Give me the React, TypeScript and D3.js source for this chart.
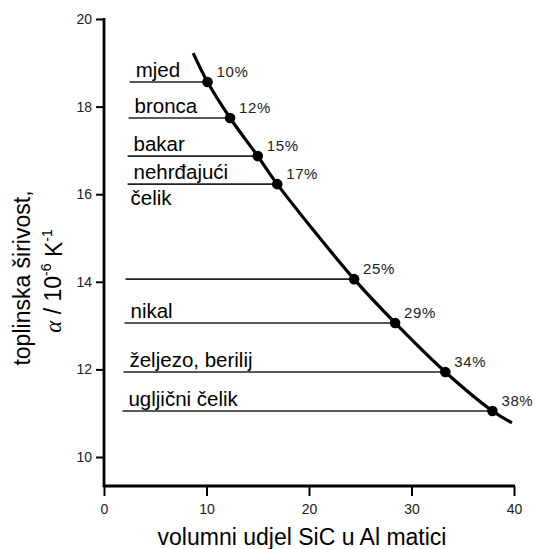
import React, { useRef, useEffect } from "react";
import { select, scaleLinear, line, axisLeft, axisBottom, curveCatmullRom } from "d3";

// volume share of SiC (%) and the expansion coefficient
const curveX = [8.7, 10.1, 12.3, 15.0, 16.9, 24.4, 28.4, 33.3, 37.9, 39.8];
const curveY = [19.22, 18.56, 17.74, 16.87, 16.23, 14.06, 13.06, 11.94, 11.05, 10.78];

// marked points on the curve
const pointX = [10.1, 12.3, 15.0, 16.9, 24.4, 28.4, 33.3, 37.9];
const pointY = [18.56, 17.74, 16.87, 16.23, 14.06, 13.06, 11.94, 11.05];
const pointPct = ["10%", "12%", "15%", "17%", "25%", "29%", "34%", "38%"];

// reference metals, one per marked point ("" = no label)
const metalNames = ["mjed", "bronca", "bakar", "nehrđajući", "", "nikal", "željezo, berilij", "ugljični čelik"];
const metalSecondLine = ["", "", "", "čelik", "", "", "", ""];
const refLineStart = [2.5, 2.4, 2.3, 2.3, 2.1, 2.0, 1.9, 1.8];

const xTicks = [0, 10, 20, 30, 40];
const yTicks = [10, 12, 14, 16, 18, 20];

const W = 535;
const H = 549;
const font = "Arial, 'Liberation Sans', Helvetica, sans-serif";

export default function App() {
  const svgRef = useRef<SVGSVGElement>(null);

  useEffect(() => {
    const svg = select(svgRef.current);
    svg.selectAll("*").remove();

    const xScale = scaleLinear().domain([0, 40]).range([104, 514]);
    const yScale = scaleLinear().domain([10, 20]).range([457, 19]);
    const axisY = 486;

    // y axis
    const yAxis = axisLeft(yScale).tickValues(yTicks).tickSize(8).tickSizeOuter(0).tickPadding(4);
    const gy = svg.append("g").attr("transform", `translate(${xScale(0)},0)`).call(yAxis);
    gy.select(".domain").remove();
    gy.append("line")
      .attr("x1", 0).attr("x2", 0)
      .attr("y1", yScale(20) - 1).attr("y2", axisY + 1)
      .attr("stroke", "#000").attr("stroke-width", 2.8);
    gy.selectAll(".tick line").attr("stroke", "#000").attr("stroke-width", 2);
    gy.selectAll(".tick text")
      .attr("font-family", font).attr("font-size", 14).attr("fill", "#222");

    // x axis
    const xAxis = axisBottom(xScale).tickValues(xTicks).tickSize(10).tickSizeOuter(0).tickPadding(8);
    const gx = svg.append("g").attr("transform", `translate(0,${axisY})`).call(xAxis);
    gx.select(".domain").remove();
    gx.append("line")
      .attr("x1", xScale(0) - 1).attr("x2", xScale(40) + 1)
      .attr("y1", 0).attr("y2", 0)
      .attr("stroke", "#000").attr("stroke-width", 2.8);
    gx.selectAll(".tick line").attr("stroke", "#000").attr("stroke-width", 2);
    gx.selectAll(".tick text")
      .attr("font-family", font).attr("font-size", 14).attr("fill", "#222");

    // horizontal reference lines from the labels to the points
    svg.append("g")
      .selectAll("line")
      .data(pointX)
      .join("line")
      .attr("x1", (d, i) => xScale(refLineStart[i]))
      .attr("x2", (d) => xScale(d))
      .attr("y1", (d, i) => yScale(pointY[i]))
      .attr("y2", (d, i) => yScale(pointY[i]))
      .attr("stroke", "#222")
      .attr("stroke-width", 1.6);

    // the curve
    const lineGenerator = line<number>()
      .x((d) => xScale(d))
      .y((d, i) => yScale(curveY[i]))
      .curve(curveCatmullRom);
    svg.append("path")
      .datum(curveX)
      .attr("d", lineGenerator)
      .attr("fill", "none")
      .attr("stroke", "#000")
      .attr("stroke-width", 3.2);

    svg.append("g")
      .selectAll("circle")
      .data(pointX)
      .join("circle")
      .attr("cx", (d) => xScale(d))
      .attr("cy", (d, i) => yScale(pointY[i]))
      .attr("r", 5.3)
      .attr("fill", "#000");

    // percentage labels
    svg.append("g")
      .selectAll("text")
      .data(pointPct)
      .join("text")
      .attr("x", (d, i) => xScale(pointX[i]) + 9)
      .attr("y", (d, i) => yScale(pointY[i]) - 10)
      .attr("dy", "0.35em")
      .attr("font-family", font)
      .attr("font-size", 15)
      .attr("letter-spacing", 0.6)
      .attr("fill", "#222")
      .text((d) => d);

    // metal names
    const names = svg.append("g").attr("font-family", font).attr("font-size", 20.5).attr("fill", "#000");
    names.selectAll("text.first")
      .data(metalNames)
      .join("text")
      .attr("class", "first")
      .attr("x", (d, i) => xScale(refLineStart[i]) + 6)
      .attr("y", (d, i) => yScale(pointY[i]) - 5)
      .text((d) => d);
    names.selectAll("text.second")
      .data(metalSecondLine)
      .join("text")
      .attr("class", "second")
      .attr("x", (d, i) => xScale(refLineStart[i]) + 3)
      .attr("y", (d, i) => yScale(pointY[i]) + 21)
      .text((d) => d);

    // axis titles
    svg.append("text")
      .attr("x", 302)
      .attr("y", 545)
      .attr("text-anchor", "middle")
      .attr("font-family", font)
      .attr("font-size", 23)
      .attr("fill", "#000")
      .text("volumni udjel SiC u Al matici");

    const yTitle = svg.append("g").attr("transform", "translate(22,278) rotate(-90)");
    yTitle.append("text")
      .attr("x", 0).attr("y", 0)
      .attr("dy", "0.35em")
      .attr("text-anchor", "middle")
      .attr("font-family", font)
      .attr("font-size", 23)
      .attr("fill", "#000")
      .text("toplinska širivost,");

    const unit = yTitle.append("text")
      .attr("x", -3).attr("y", 31)
      .attr("dy", "0.35em")
      .attr("text-anchor", "middle")
      .attr("font-family", font)
      .attr("font-size", 23)
      .attr("fill", "#000");
    unit.append("tspan").attr("font-family", "'Liberation Serif', 'DejaVu Serif', serif").attr("font-style", "italic").text("α");
    unit.append("tspan").text(" / 10");
    unit.append("tspan").attr("font-size", 14).attr("dy", "-0.7em").text("-6");
    unit.append("tspan").attr("dy", "0.45em").text(" K");
    unit.append("tspan").attr("font-size", 14).attr("dy", "-0.7em").text("-1");
  }, []);

  return (
    <svg
      ref={svgRef}
      width={W}
      height={H}
      style={{ position: "absolute", left: 0, top: 0, background: "#fff" }}
    />
  );
}
